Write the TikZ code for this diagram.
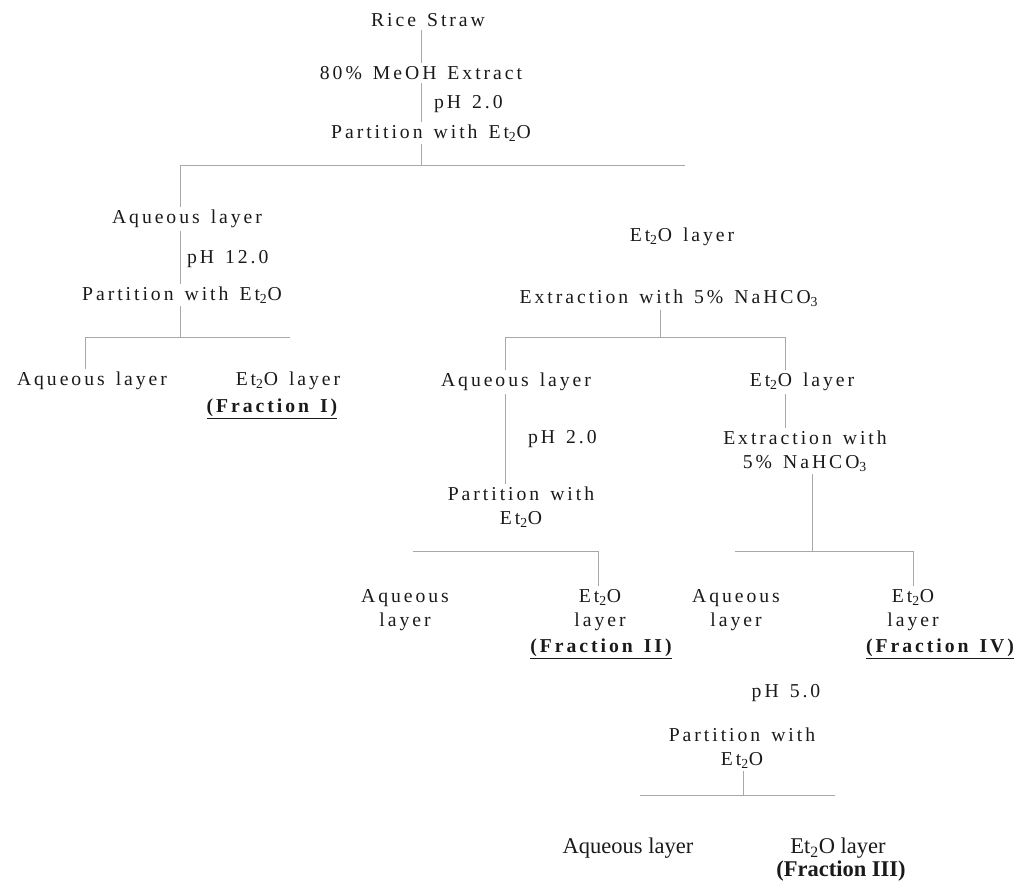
\documentclass[tikz,border=0pt]{standalone}
\usepackage{fontspec}
\setmainfont{Liberation Serif}[LetterSpace=15, WordSpace=1.4]
\newfontfamily\flatserif{Liberation Serif}
\usepackage{tikz}
\usetikzlibrary{positioning}
\definecolor{ink}{HTML}{1A1A1A}
\definecolor{rulegray}{HTML}{A8A8A8}

\begin{document}
\begin{tikzpicture}[
  x=0.025cm, y=-0.025cm,
  every node/.style={font=\fontsize{14}{17}\selectfont, text=ink, inner sep=2pt},
  lbl/.style={align=center},
  frac/.style={font=\fontsize{14}{17}\selectfont\bfseries},
  flat/.style={font=\fontsize{16}{19}\selectfont\flatserif, inner sep=0.5pt},
  flatfrac/.style={font=\fontsize{16}{19}\selectfont\flatserif\bfseries, inner sep=0.5pt},
  link/.style={draw=rulegray, line width=0.5pt}
]
  \useasboundingbox (0,0) rectangle (1017,883);

  \node (rice)  at (428,20)  {Rice Straw};
  \node (meoh)  at (421,73)  {80\% MeOH Extract};
  \node[anchor=west] (ph1) at (431,104) {pH 2.0};
  \node (part1) at (431,133) {Partition with Et\textsubscript{2}O};

  \node (aq1)   at (187,219) {Aqueous layer};
  \node[anchor=west] (ph2) at (184,259) {pH 12.0};
  \node (part2) at (182,295) {Partition with Et\textsubscript{2}O};
  \node (aq2)   at (92,381)  {Aqueous layer};
  \node (et2)   at (288,381) {Et\textsubscript{2}O layer};
  \node[frac] (frac1) at (272,409) {\underline{(Fraction I)}};

  \node (et1)   at (682,237) {Et\textsubscript{2}O layer};
  \node (ext1)  at (669,298) {Extraction with 5\% NaHCO\textsubscript{3}};
  \node (aq3)   at (516,382) {Aqueous layer};
  \node (et3)   at (802,382) {Et\textsubscript{2}O layer};
  \node[anchor=west] (ph3) at (525,439) {pH 2.0};
  \node[lbl] (part3) at (521,507) {Partition with\\Et\textsubscript{2}O};
  \node[lbl] (aq4)   at (405,610) {Aqueous\\layer};
  \node[lbl] (et4)   at (600,610) {Et\textsubscript{2}O\\layer};
  \node[frac] (frac2) at (601,649) {\underline{(Fraction II)}};

  \node[lbl] (ext2)  at (805,451) {Extraction with\\5\% NaHCO\textsubscript{3}};
  \node[lbl] (aq5)   at (736,610) {Aqueous\\layer};
  \node[lbl] (et5)   at (913,610) {Et\textsubscript{2}O\\layer};
  \node[frac] (frac4) at (940,649) {\underline{(Fraction IV)}};
  \node (ph4)   at (786,693) {pH 5.0};
  \node[lbl] (part4) at (742,748) {Partition with\\Et\textsubscript{2}O};
  \node[flat] (aq6)  at (628,848) {Aqueous layer};
  \node[flat] (et6)  at (838,848) {Et\textsubscript{2}O layer};
  \node[flatfrac] (frac3) at (841,871) {(Fraction III)};

  \coordinate (s1) at (421,165);
  \coordinate (l1) at (180,165);
  \coordinate (r1) at (685,165);
  \coordinate (l2) at (85,337);
  \coordinate (r2) at (290,337);
  \coordinate (s3) at (660,337);
  \coordinate (l3) at (505,337);
  \coordinate (r3) at (785,337);
  \coordinate (l4) at (413,551);
  \coordinate (r4) at (598,551);
  \coordinate (s5) at (812,551);
  \coordinate (l5) at (735,551);
  \coordinate (r5) at (913,551);
  \coordinate (s6) at (743,795);
  \coordinate (l6) at (640,795);
  \coordinate (r6) at (835,795);

  \draw[link] (meoh.north) -- (meoh.north |- rice.south);
  \draw[link] (meoh.south) -- (meoh.south |- part1.north);
  \draw[link] (s1 |- part1.south) -- (s1);
  \draw[link] (l1 |- aq1.north) -- (l1) -- (r1);
  \draw[link] (l1 |- aq1.south) -- (l1 |- part2.north);
  \draw[link] (l1 |- part2.south) -- (l1 |- l2);
  \draw[link] (l2 |- aq2.north) -- (l2) -- (r2);
  \draw[link] (s3 |- ext1.south) -- (s3);
  \draw[link] (l3 |- aq3.north) -- (l3) -- (r3) -- (r3 |- et3.north);
  \draw[link] (l3 |- aq3.south) -- (l3 |- part3.north);
  \draw[link] (r3 |- et3.south) -- (r3 |- ext2.north);
  \draw[link] (l4) -- (r4) -- (r4 |- et4.north);
  \draw[link] (s5 |- ext2.south) -- (s5);
  \draw[link] (l5) -- (r5) -- (r5 |- et5.north);
  \draw[link] (s6 |- part4.south) -- (s6);
  \draw[link] (l6) -- (r6);
\end{tikzpicture}
\end{document}
